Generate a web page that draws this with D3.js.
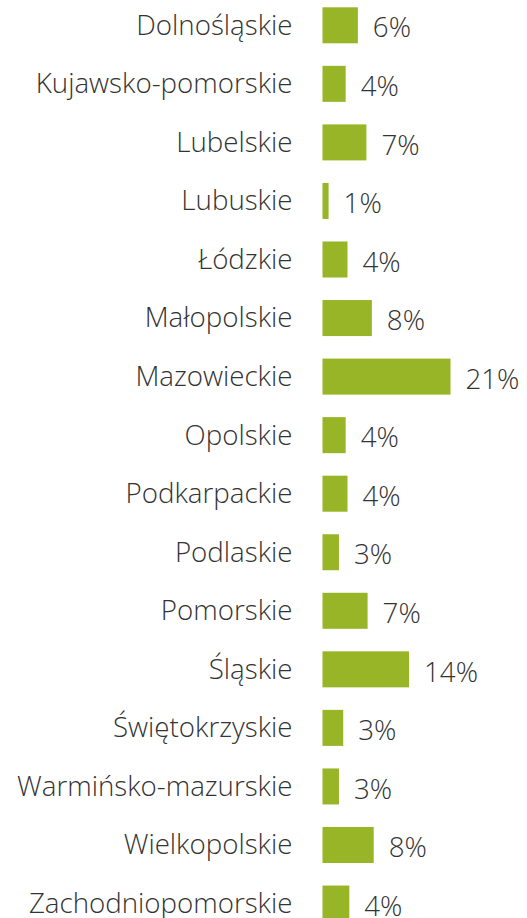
<!DOCTYPE html>
<html>
<head>
<meta charset="utf-8">
<script src="https://cdn.jsdelivr.net/npm/d3@7"></script>
<style>
html,body{margin:0;padding:0;background:#fff;}
svg{display:block;}
text{font-family:"Open Sans",sans-serif;font-weight:300;fill:#333;}
</style>
</head>
<body>
<svg id="chart" width="527" height="918"></svg>
<script>
const categories = ["Dolnośląskie","Kujawsko-pomorskie","Lubelskie","Lubuskie","Łódzkie","Małopolskie","Mazowieckie","Opolskie","Podkarpackie","Podlaskie","Pomorskie","Śląskie","Świętokrzyskie","Warmińsko-mazurskie","Wielkopolskie","Zachodniopomorskie"];
const values = [5.8,3.8,7.2,1.0,4.1,8.1,21.0,3.8,4.1,2.7,7.4,14.2,3.4,2.7,8.4,4.4];
const valueLabels = ["6%","4%","7%","1%","4%","8%","21%","4%","4%","3%","7%","14%","3%","3%","8%","4%"];

const data = categories.map((c,i)=>({cat:c, v:values[i], label:valueLabels[i]}));
const svg = d3.select("#chart");

const y = d3.scaleBand().domain(categories).range([7.3, 921.55]).paddingInner(0.385).paddingOuter(0);
const x = d3.scaleLinear().domain([0, 21]).range([322.5, 450.5]);

svg.selectAll("rect.bar").data(data).join("rect")
  .attr("class","bar")
  .attr("x", x(0))
  .attr("y", d=>y(d.cat))
  .attr("width", d=>x(d.v)-x(0))
  .attr("height", y.bandwidth())
  .attr("fill","#97b527");

svg.selectAll("text.cat").data(data).join("text")
  .attr("class","cat")
  .attr("x", 292.5)
  .attr("y", d=>y(d.cat)+y.bandwidth()/2)
  .attr("dy","0.34em")
  .attr("text-anchor","end")
  .style("font-size","27.7px")
  .text(d=>d.cat);

svg.selectAll("text.val").data(data).join("text")
  .attr("class","val")
  .attr("x", d=>x(d.v)+15)
  .attr("y", d=>y(d.cat)+y.bandwidth()/2)
  .attr("dy","0.44em")
  .style("font-size","27.7px")
  .text(d=>d.label);
</script>
</body>
</html>
